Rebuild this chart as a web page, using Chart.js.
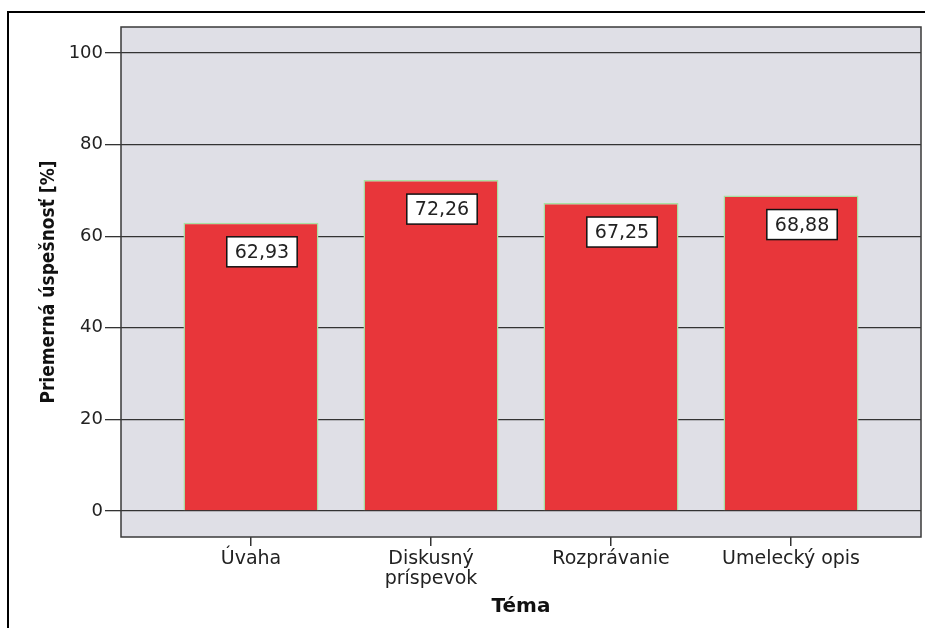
<!DOCTYPE html>
<html><head><meta charset="utf-8">
<script src="https://cdn.jsdelivr.net/npm/chart.js@4.4.1/dist/chart.umd.min.js"></script>
<style>html,body{margin:0;padding:0;background:#fff}#wrap{width:925px;height:628px;position:relative}</style>
</head><body><div id="wrap"><canvas id="c" width="925" height="628"></canvas></div>
<script>
const categories = [['Úvaha'], ['Diskusný', 'príspevok'], ['Rozprávanie'], ['Umelecký opis']];
const values = [62.93, 72.26, 67.25, 68.88];
const valueLabels = ['62,93', '72,26', '67,25', '68,88'];
const yTickValues = [0, 20, 40, 60, 80, 100];
const xTitle = 'Téma';
const yTitle = 'Priemerná úspešnosť [%]';

const points = values.map((v, i) => ({ x: i, y: v }));

const decor = {
  id: 'decor',
  beforeDraw(chart) {
    const { ctx, chartArea: a } = chart;
    ctx.save();
    ctx.fillStyle = '#dfdfe6';
    ctx.fillRect(a.left, a.top, a.right - a.left, a.bottom - a.top);
    ctx.restore();
  },
  afterDraw(chart) {
    const { ctx, chartArea: a } = chart;
    ctx.save();
    ctx.strokeStyle = '#3a3a3a';
    ctx.lineWidth = 1.5;
    ctx.strokeRect(a.left, a.top, a.right - a.left, a.bottom - a.top);
    ctx.strokeStyle = '#000';
    ctx.lineWidth = 2;
    ctx.beginPath();
    ctx.moveTo(8, 628); ctx.lineTo(8, 12); ctx.lineTo(925, 12);
    ctx.stroke();
    const meta = chart.getDatasetMeta(0);
    ctx.font = '19px "DejaVu Sans", sans-serif';
    ctx.textAlign = 'center';
    ctx.textBaseline = 'middle';
    meta.data.forEach((el, i) => {
      const txt = valueLabels[i];
      const w = ctx.measureText(txt).width + 16;
      const h = 30;
      const cx = el.x + 11;
      const top = el.y + 14;
      ctx.fillStyle = '#fff';
      ctx.fillRect(cx - w / 2, top, w, h);
      ctx.strokeStyle = '#111';
      ctx.lineWidth = 1.5;
      ctx.strokeRect(cx - w / 2, top, w, h);
      ctx.fillStyle = '#222';
      ctx.fillText(txt, cx, top + h / 2 + 1);
    });
    ctx.restore();
  }
};

new Chart(document.getElementById('c'), {
  type: 'bar',
  data: {
    datasets: [{
      data: points,
      backgroundColor: '#e8363a',
      borderColor: '#a8e0a0',
      borderWidth: 1.5,
      categoryPercentage: 1,
      barPercentage: 0.75
    }]
  },
  options: {
    responsive: false,
    animation: false,
    devicePixelRatio: 1,
    layout: { padding: { left: 8, top: 27, right: 4, bottom: 0 } },
    plugins: { legend: { display: false }, tooltip: { enabled: false } },
    scales: {
      x: {
        type: 'linear',
        offset: false,
        min: -0.722,
        max: 3.722,
        afterBuildTicks: (s) => { s.ticks = categories.map((c, i) => ({ value: i })); },
        afterFit: (s) => { s.height = 91; },
        border: { display: false },
        grid: { offset: false, drawOnChartArea: false, drawTicks: true, tickLength: 9, color: '#333', lineWidth: 1.5 },
        ticks: {
          autoSkip: false, maxRotation: 0, padding: 3,
          color: '#222',
          font: { family: '"DejaVu Sans", sans-serif', size: 19, lineHeight: 1.05 },
          callback: (v) => categories[v] || ''
        },
        title: {
          display: true, text: xTitle, color: '#111',
          font: { family: '"DejaVu Sans", sans-serif', size: 20, weight: 'bold' },
          padding: { top: 0, bottom: 9 }
        }
      },
      y: {
        min: -5.7,
        max: 105.7,
        afterBuildTicks: (s) => { s.ticks = yTickValues.map(v => ({ value: v })); },
        afterFit: (s) => { s.width = 113; },
        border: { display: false },
        grid: { color: '#333', lineWidth: 1.3, drawTicks: true, tickLength: 16, },
        ticks: {
          color: '#222', padding: 2,
          font: { family: '"DejaVu Sans", sans-serif', size: 18 }
        },
        title: {
          display: true, text: yTitle, color: '#111',
          font: { family: '"DejaVu Sans Condensed", "DejaVu Sans", sans-serif', size: 19, weight: 'bold' },
          padding: { top: 30, bottom: 0 }
        }
      }
    }
  },
  plugins: [decor]
});
</script></body></html>
